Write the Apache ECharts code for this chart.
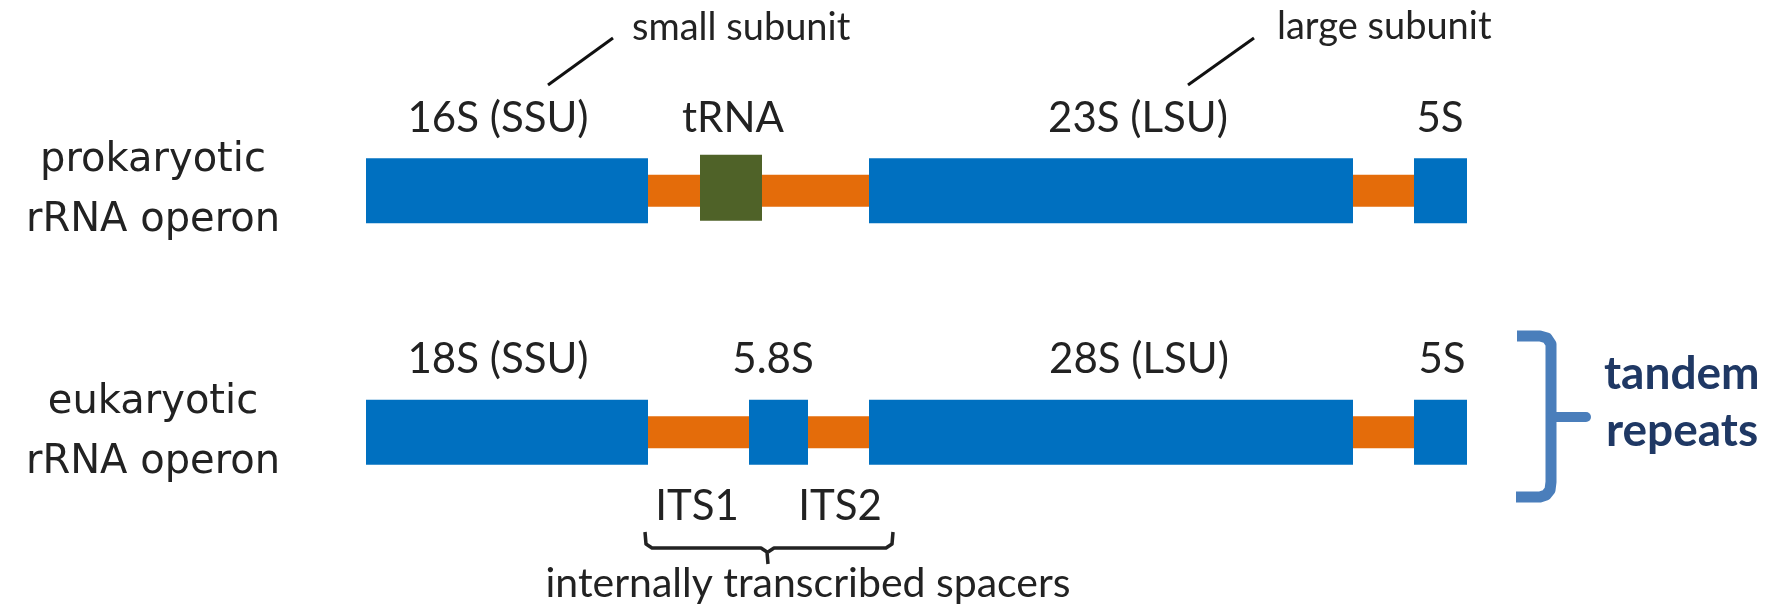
<!DOCTYPE html>
<html>
<head>
<meta charset="utf-8">
<script src="https://cdn.jsdelivr.net/npm/echarts@6/dist/echarts.min.js"></script>
<style>
html,body{margin:0;padding:0;background:#fff;}
#chart{width:1773px;height:609px;}
</style>
</head>
<body>
<div id="chart"></div>
<script>
// ---- data (positions along the operon, arbitrary units) ----
const rowLabels = ['prokaryotic\nrRNA operon', 'eukaryotic\nrRNA operon'];
// [row, start, end]
const spacerSegments = [[0, 282, 503], [0, 987, 1048], [1, 282, 383], [1, 442, 503], [1, 987, 1048]];
const geneSegments = [[0, 0, 282], [0, 503, 987], [0, 1048, 1101], [1, 0, 282], [1, 383, 442], [1, 503, 987], [1, 1048, 1101]];
const trnaSegments = [[0, 334, 396]];
const geneLabels = ['16S (SSU)', 'tRNA', '23S (LSU)', '5S', '18S (SSU)', '5.8S', '28S (LSU)', '5S'];
const geneLabelRows = [0, 0, 0, 0, 1, 1, 1, 1];
const geneLabelPos = [132, 367, 772, 1074, 132, 407, 773, 1076];
const spacerLabels = ['ITS1', 'ITS2'];
const spacerLabelRows = [1, 1];
const spacerLabelPos = [331, 474];

const BLUE = '#0070C0', ORANGE = '#E46C0A', GREEN = '#4F6228', TXT = '#222222';
const LABEL_FONT = 'Lato';

function barRenderer(height, color, dy) {
  return function (params, api) {
    const row = api.value(0);
    const p0 = api.coord([api.value(1), row]);
    const p1 = api.coord([api.value(2), row]);
    return {
      type: 'rect',
      shape: { x: p0[0], y: p0[1] - height / 2 + dy, width: p1[0] - p0[0], height: height },
      style: { fill: color }
    };
  };
}

const labelData = geneLabelPos.map((x, i) => [x, geneLabelRows[i], 0, geneLabels[i]])
  .concat(spacerLabelPos.map((x, i) => [x, spacerLabelRows[i], 1, spacerLabels[i]]));

const chart = echarts.init(document.getElementById('chart'));
chart.setOption({
  animation: false,
  backgroundColor: '#ffffff',
  grid: { left: 366, right: 306, top: 70, height: 483, containLabel: false, outerBoundsMode: 'none' },
  xAxis: { type: 'value', min: 0, max: 1101, show: false },
  yAxis: {
    type: 'category', inverse: true,
    data: rowLabels,
    axisLine: { show: false }, axisTick: { show: false }, splitLine: { show: false },
    axisLabel: {
      margin: 213, align: 'center', fontFamily: 'DejaVu Sans', fontSize: 40,
      lineHeight: 60, color: TXT
    }
  },
  series: [
    { type: 'custom', name: 'spacers', data: spacerSegments, encode: { x: [1, 2], y: 0 },
      renderItem: barRenderer(32, ORANGE, 0) },
    { type: 'custom', name: 'rRNA genes', data: geneSegments, encode: { x: [1, 2], y: 0 },
      renderItem: barRenderer(65, BLUE, 0) },
    { type: 'custom', name: 'tRNA', data: trnaSegments, encode: { x: [1, 2], y: 0 },
      renderItem: barRenderer(66, GREEN, -3) },
    { type: 'custom', name: 'labels', data: labelData, encode: { x: 0, y: 1 },
      renderItem: function (params, api) {
        const d = labelData[params.dataIndex];
        const p = api.coord([d[0], d[1]]);
        const y = d[2] === 0 ? p[1] - 72.5 : p[1] + 74.5;
        return {
          type: 'text', x: p[0], y: y,
          style: { text: d[3], fontFamily: LABEL_FONT, fontSize: 42, fill: TXT, align: 'center', verticalAlign: 'middle' }
        };
      } }
  ],
  graphic: [
    { type: 'line', shape: { x1: 548, y1: 85, x2: 613, y2: 38 }, style: { stroke: '#111', lineWidth: 3 } },
    { type: 'text', x: 632, y: 28, style: { text: 'small subunit', fontFamily: LABEL_FONT, fontSize: 38, fill: TXT, align: 'left', verticalAlign: 'middle' } },
    { type: 'line', shape: { x1: 1188, y1: 85, x2: 1254, y2: 38 }, style: { stroke: '#111', lineWidth: 3 } },
    { type: 'text', x: 1277, y: 27, style: { text: 'large subunit', fontFamily: LABEL_FONT, fontSize: 38, fill: TXT, align: 'left', verticalAlign: 'middle' } },
    // ITS brace
    { type: 'polyline', shape: { points: [[645, 532], [646, 544], [652, 548], [761, 548], [767, 552], [768, 564]] },
      style: { stroke: '#222', lineWidth: 3.5, fill: null, lineJoin: 'round' } },
    { type: 'polyline', shape: { points: [[768, 552], [774, 548], [886, 548], [892, 544], [893, 532]] },
      style: { stroke: '#222', lineWidth: 3.5, fill: null, lineJoin: 'round' } },
    { type: 'text', x: 808, y: 584, style: { text: 'internally transcribed spacers', fontFamily: LABEL_FONT, fontSize: 41, fill: TXT, align: 'center', verticalAlign: 'middle' } },
    // tandem repeats brace
    { type: 'polyline', shape: { points: [[1517, 336], [1540, 336], [1547, 338], [1551, 344], [1551, 352], [1551, 482], [1550, 490], [1546, 495], [1540, 497], [1516, 497]] },
      style: { stroke: '#4A7EBB', lineWidth: 11, fill: null, lineJoin: 'round' } },
    { type: 'line', shape: { x1: 1551, y1: 417, x2: 1586, y2: 417 }, style: { stroke: '#4A7EBB', lineWidth: 10, lineCap: 'round' } },
    { type: 'text', x: 1604, y: 374, style: { text: 'tandem', fontFamily: LABEL_FONT, fontWeight: 'bold', fontSize: 46, fill: '#1F3864', align: 'left', verticalAlign: 'middle' } },
    { type: 'text', x: 1606, y: 431, style: { text: 'repeats', fontFamily: LABEL_FONT, fontWeight: 'bold', fontSize: 46, fill: '#1F3864', align: 'left', verticalAlign: 'middle' } }
  ]
});
</script>
</body>
</html>
